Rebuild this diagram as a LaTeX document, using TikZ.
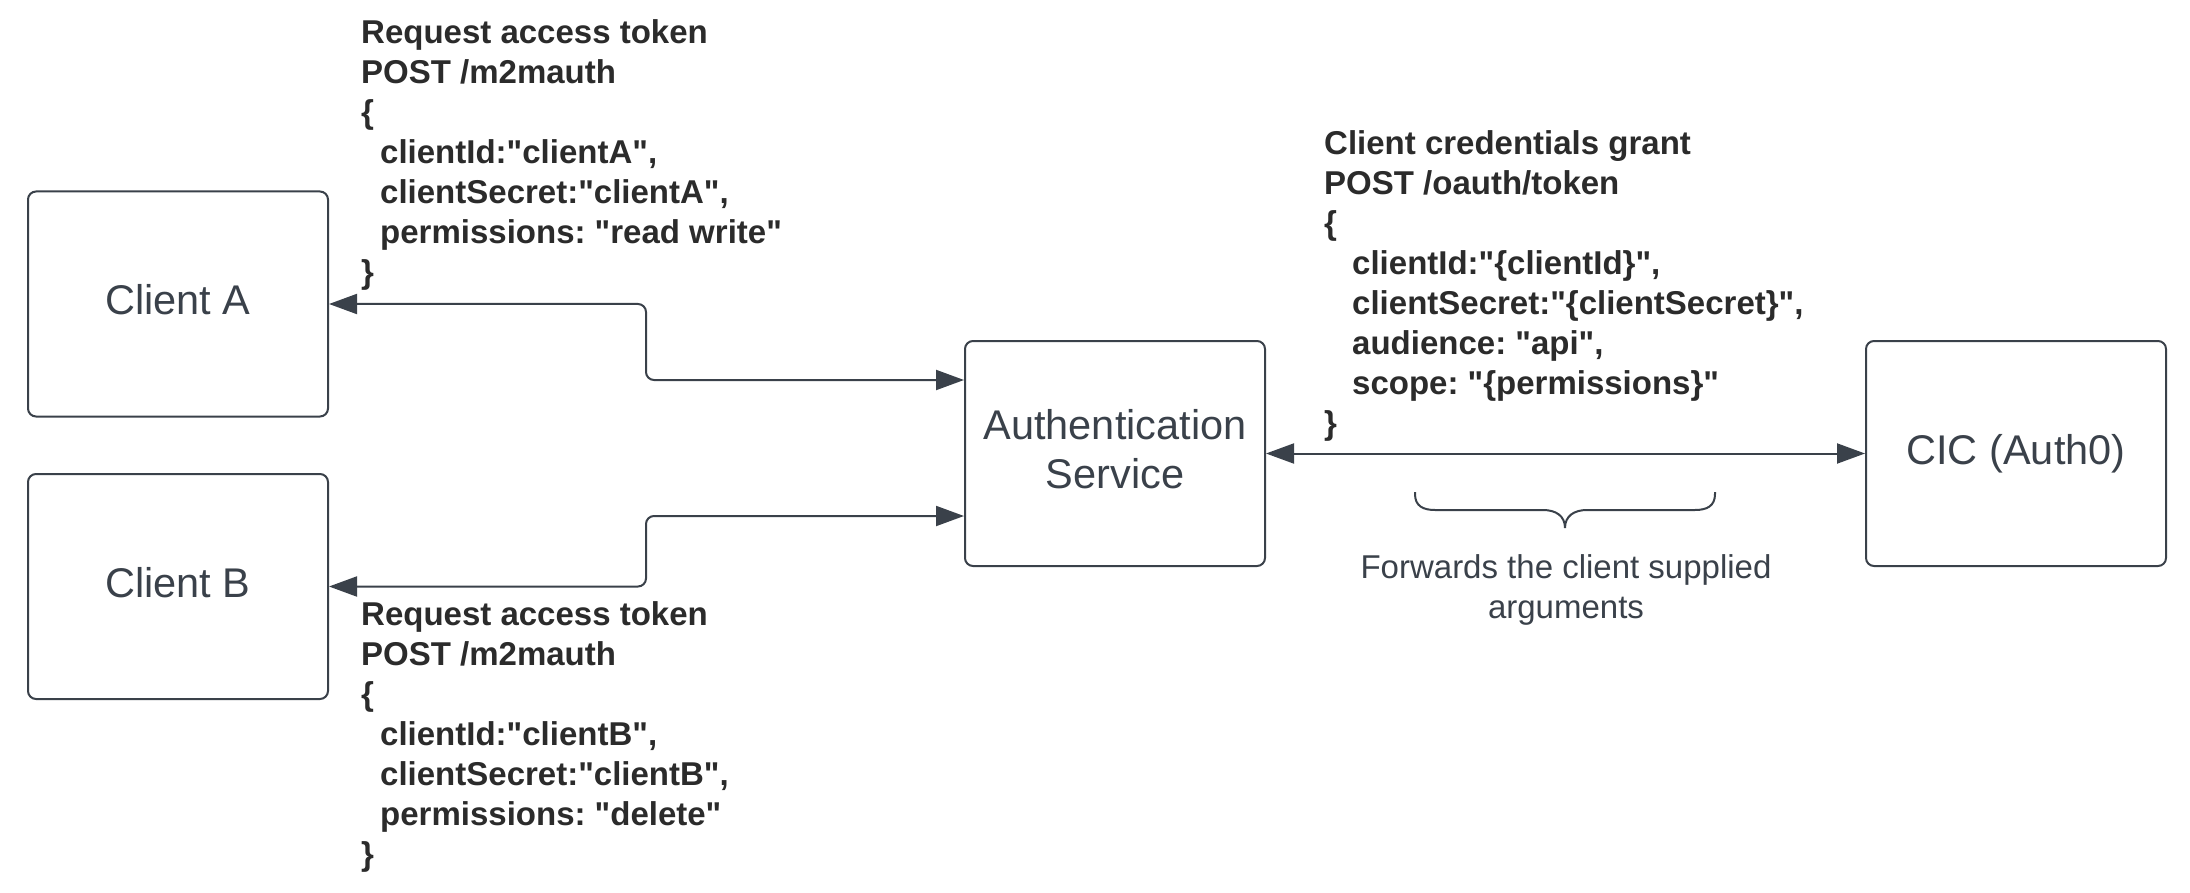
\documentclass[tikz,border=0pt]{standalone}
\usepackage{fontspec}
\setmainfont{Liberation Sans}[Ligatures=TeXOff]
\usetikzlibrary{arrows.meta}
\definecolor{lc}{HTML}{3A414A}
\definecolor{tc}{HTML}{2B2B2B}
\frenchspacing
\tikzset{
  box/.style={draw=lc, line width=2pt, rounded corners=8pt, minimum width=300pt, minimum height=225pt, inner sep=0pt, text=lc, font=\fontsize{41.5}{49}\selectfont, align=center, text depth=8.5pt},
  conn/.style={draw=lc, line width=2pt, rounded corners=8pt, {Triangle[length=28pt,width=20pt]}-{Triangle[length=28pt,width=20pt]}},
  code/.style={anchor=north west, inner sep=0pt, align=left, text=tc, font=\fontsize{33}{40}\selectfont\bfseries},
  note/.style={anchor=north, inner sep=0pt, align=center, text=lc, font=\fontsize{33}{40}\selectfont},
}
\begin{document}
\begin{tikzpicture}[x=1pt,y=-1pt]
\useasboundingbox (0,0) rectangle (2190,893);
\node[box] (A) at (178,304) {Client A};
\node[box] (B) at (178,586.5) {Client B};
\node[box] (S) at (1115,453.5) {Authentication\\Service};
\node[box] (C) at (2016,453.5) {CIC (Auth0)};

\draw[conn] (A.east) -| (646,380) -- (S.west |- 0,380);
\draw[conn] (B.east) -| (646,516) -- (S.west |- 0,516);
\draw[conn] (S.east) -- (C.west);

\node[code] (ta) at (361,19) {Request access token\\POST /m2mauth\\\{\\\hspace*{19pt}clientId:"clientA",\\\hspace*{19pt}clientSecret:"clientA",\\\hspace*{19pt}permissions: "read write"\\\}};
\node[code] (tb) at (361,601) {Request access token\\POST /m2mauth\\\{\\\hspace*{19pt}clientId:"clientB",\\\hspace*{19pt}clientSecret:"clientB",\\\hspace*{19pt}permissions: "delete"\\\}};
\node[code] (tc) at (1324,130) {Client credentials grant\\POST /oauth/token\\\{\\\hspace*{28pt}clientId:"\{clientId\}",\\\hspace*{28pt}clientSecret:"\{clientSecret\}",\\\hspace*{28pt}audience: "api",\\\hspace*{28pt}scope: "\{permissions\}"\\\}};

\draw[lc, line width=2pt] (1415,492) -- (1415,494) .. controls (1415,506) and (1423,510) .. (1435,510) -- (1543,510) .. controls (1556,510) and (1565,516) .. (1565,528) .. controls (1565,516) and (1574,510) .. (1587,510) -- (1695,510) .. controls (1707,510) and (1715,506) .. (1715,494) -- (1715,492);
\node[note] (fw) at (1566,554) {Forwards the client supplied\\arguments};
\end{tikzpicture}
\end{document}
